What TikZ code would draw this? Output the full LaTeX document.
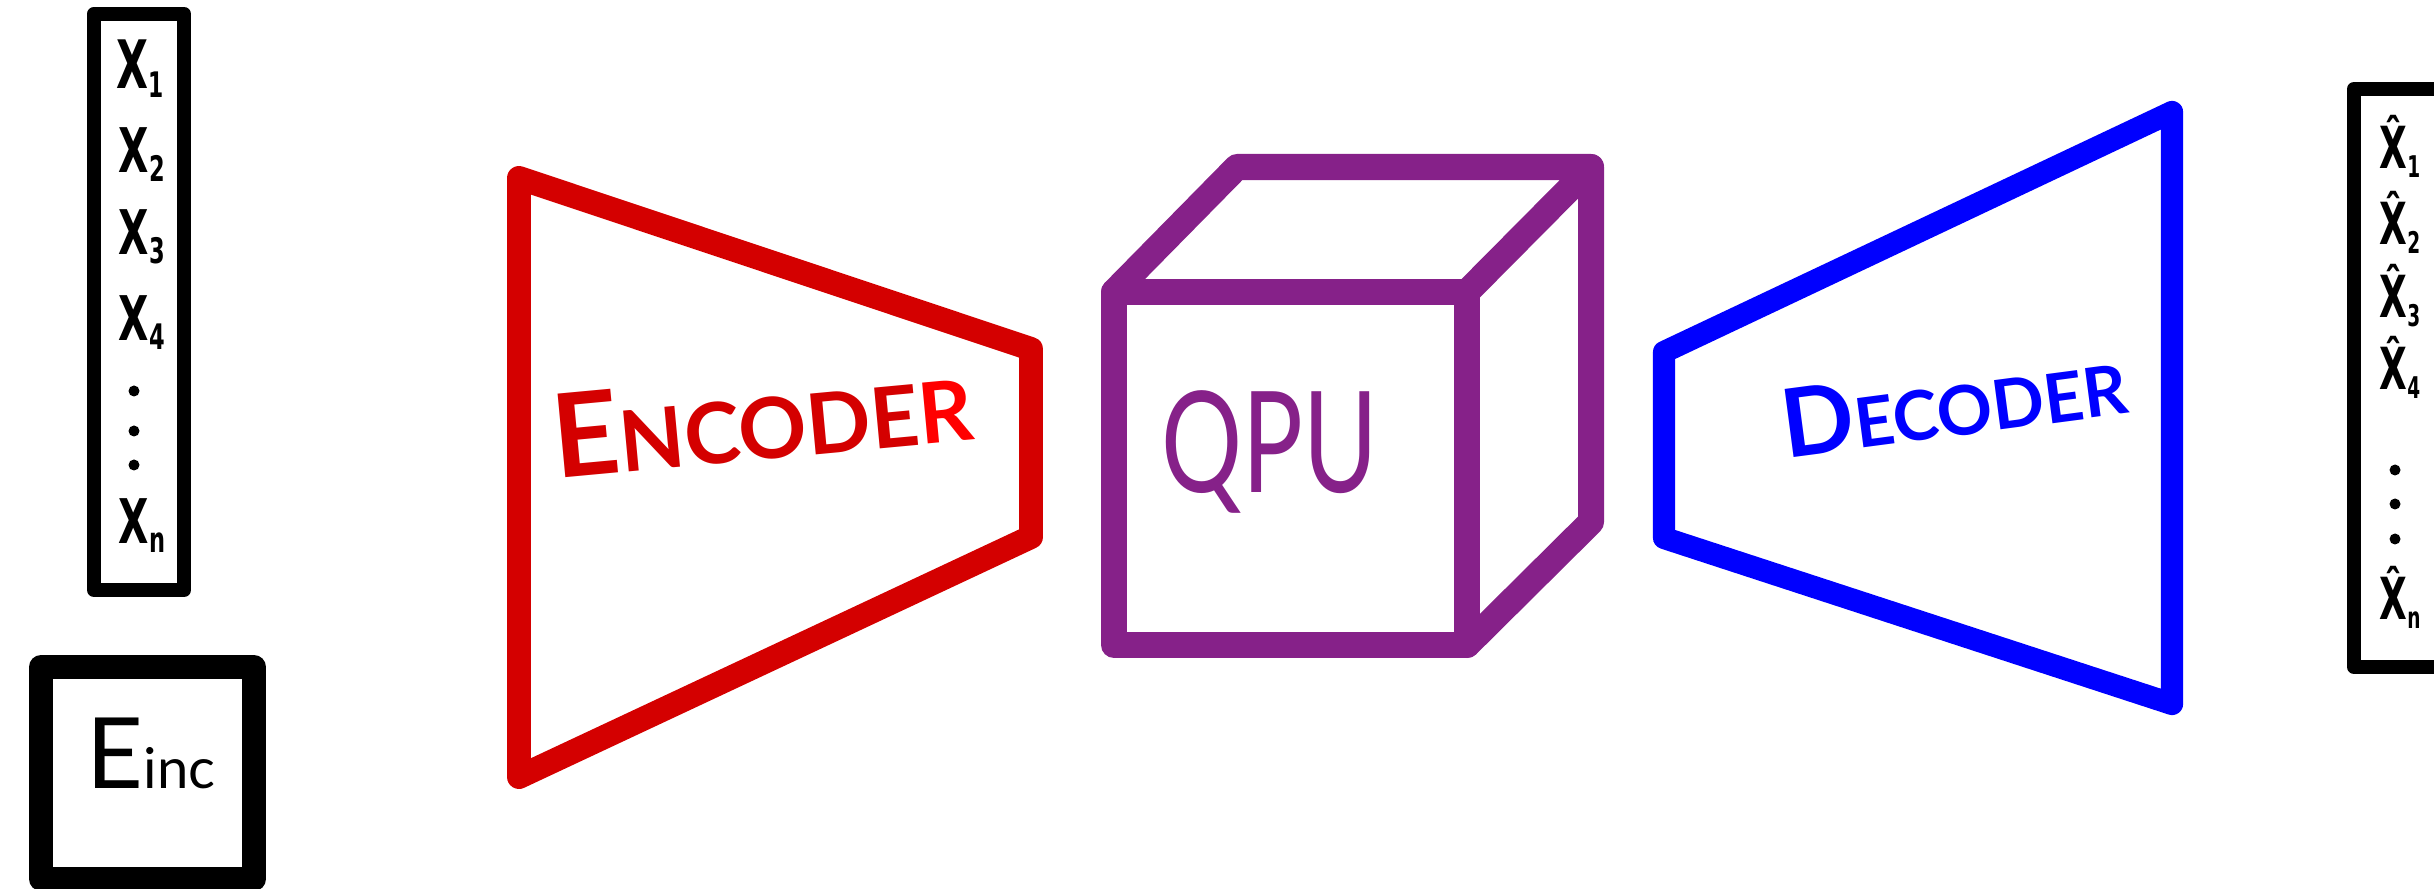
\documentclass[tikz,border=0pt]{standalone}
\usepackage{fontspec}
\setmainfont{Lato}
\newfontfamily\markerfont{DejaVu Sans}

\definecolor{encred}{RGB}{212,0,0}
\definecolor{rbright}{RGB}{255,0,0}
\definecolor{qpupurple}{RGB}{134,33,137}
\definecolor{decblue}{RGB}{0,0,255}

% one vector entry: narrowed letter followed by a lowered index
% #1 horizontal squeeze, #2 index size (pt), #3 letter, #4 index
\newcommand\vecentry[4]{\scalebox{#1}[1]{#3\raisebox{-2.5pt}{\fontsize{#2}{#2}\selectfont #4}}}

\tikzset{
  listframe/.style={draw=black, line width=4pt, line join=round},
  energyframe/.style={draw=black, line width=6.8pt, line join=round},
  encline/.style={draw=encred, line width=6.8pt, line join=round, line cap=round},
  cubeline/.style={draw=qpupurple, line width=7.4pt, line join=round, line cap=round},
  decline/.style={draw=decblue, line width=6.3pt, line join=round, line cap=round},
  entry/.style={inner sep=0pt, anchor=base west,
    font=\markerfont\bfseries\fontsize{17.5}{17.5}\selectfont},
  hatentry/.style={entry, font=\markerfont\bfseries\fontsize{16.5}{16.5}\selectfont},
  listdot/.style={fill=black},
}

\begin{document}
\begin{tikzpicture}[x=0.01cm, y=-0.01cm]
  \useasboundingbox (0,0) rectangle (2434,889);
  \clip (0,0) rectangle (2434,889);

  % ---------- input vector ----------
  \coordinate (in-tl) at (94,14);
  \coordinate (in-br) at (184,590);
  \draw[listframe] (in-tl) rectangle (in-br);
  \node[entry, font=\markerfont\bfseries\fontsize{19}{19}\selectfont] (x1) at (116,89) {\vecentry{0.62}{10}{X}{1}};
  \node[entry] (x2) at (118,173) {\vecentry{0.64}{10}{X}{2}};
  \node[entry] (x3) at (118,255) {\vecentry{0.64}{10}{X}{3}};
  \node[entry] (x4) at (118,341) {\vecentry{0.64}{10}{X}{4}};
  \fill[listdot] (134,391) circle (5.5);
  \fill[listdot] (134,431) circle (5.5);
  \fill[listdot] (134,465) circle (5.5);
  \node[entry] (xn) at (118,544) {\vecentry{0.64}{10}{X}{n}};

  % ---------- incident energy ----------
  \coordinate (en-tl) at (41,667);
  \coordinate (en-br) at (254,879);
  \draw[energyframe] (en-tl) rectangle (en-br);
  \node[inner sep=0pt, anchor=base west] (einc) at (86,788)
    {\fontsize{28}{28}\selectfont E\fontsize{16}{16}\selectfont inc};

  % ---------- encoder ----------
  \coordinate (enc-tl) at (519,178);
  \coordinate (enc-tr) at (1031,349);
  \coordinate (enc-br) at (1031,537);
  \coordinate (enc-bl) at (519,777);
  \draw[encline] (enc-tl) -- (enc-tr) -- (enc-br) -- (enc-bl) -- cycle;
  \node[rotate=5.3, inner sep=0pt, text=encred, font=\bfseries] (enclabel) at (762,418)
    {\fontsize{33}{33}\selectfont E\fontsize{24}{24}\selectfont NCODE\textcolor{rbright}{R}};

  % ---------- QPU cube ----------
  \coordinate (f-tl) at (1114,292);
  \coordinate (f-tr) at (1467,292);
  \coordinate (f-br) at (1467,645);
  \coordinate (f-bl) at (1114,645);
  \coordinate (b-tl) at (1237,167);
  \coordinate (b-tr) at (1591,167);
  \coordinate (b-br) at (1591,522);
  \draw[cubeline] (f-tl) -- (f-tr) -- (f-br) -- (f-bl) -- cycle;
  \draw[cubeline] (f-tl) -- (b-tl) -- (b-tr) -- (f-tr);
  \draw[cubeline] (b-tr) -- (b-br) -- (f-br);
  \node[inner sep=0pt, text=qpupurple] (qpu) at (1270,452)
    {\fontsize{40}{40}\selectfont\scalebox{0.72}[1]{QPU}};

  % ---------- decoder ----------
  \coordinate (dec-tl) at (1664,352);
  \coordinate (dec-tr) at (2172,112);
  \coordinate (dec-br) at (2172,704);
  \coordinate (dec-bl) at (1664,538);
  \draw[decline] (dec-tl) -- (dec-tr) -- (dec-br) -- (dec-bl) -- cycle;
  \node[rotate=7.5, inner sep=0pt, text=decblue, font=\bfseries] (declabel) at (1954,402)
    {\fontsize{27}{27}\selectfont D\fontsize{19.5}{19.5}\selectfont ECODER};

  % ---------- reconstructed vector ----------
  \coordinate (out-tl) at (2354,89);
  \coordinate (out-br) at (2480,667);
  \draw[listframe] (out-tl) rectangle (out-br);
  \node[hatentry] (y1) at (2379,169) {\vecentry{0.62}{8.5}{X̂}{1}};
  \node[hatentry] (y2) at (2379,245) {\vecentry{0.62}{8.5}{X̂}{2}};
  \node[hatentry] (y3) at (2379,318) {\vecentry{0.62}{8.5}{X̂}{3}};
  \node[hatentry] (y4) at (2379,390) {\vecentry{0.62}{8.5}{X̂}{4}};
  \fill[listdot] (2395,470) circle (5.5);
  \fill[listdot] (2395,504) circle (5.5);
  \fill[listdot] (2395,539) circle (5.5);
  \node[hatentry] (yn) at (2379,620) {\vecentry{0.62}{8.5}{X̂}{n}};
\end{tikzpicture}
\end{document}
